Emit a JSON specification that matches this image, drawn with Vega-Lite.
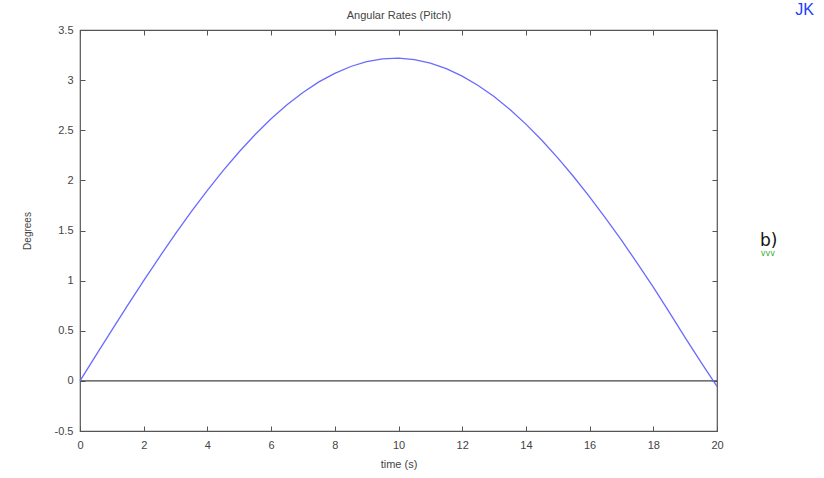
{
  "$schema": "https://vega.github.io/schema/vega-lite/v6.json",
  "width": 637,
  "height": 401,
  "autosize": {"type": "none"},
  "padding": {"left": 80, "top": 30, "right": 107, "bottom": 47},
  "background": "white",
  "config": {
    "font": "Liberation Sans",
    "locale": {"number": {"decimal": ".", "thousands": ",", "grouping": [3], "currency": ["$", ""], "minus": "-"}},
    "view": {"stroke": "#555", "strokeWidth": 1.2},
    "axis": {"grid": false, "labelColor": "#444", "titleColor": "#444", "labelFontSize": 11, "titleFontWeight": "normal", "domain": false, "tickColor": "#555"}
  },
  "datasets": {
    "pitch": [
      {"t": 0, "v": 0}, {"t": 0.5, "v": 0.254}, {"t": 1, "v": 0.506}, {"t": 1.5, "v": 0.755},
      {"t": 2, "v": 1.0}, {"t": 2.5, "v": 1.238}, {"t": 3, "v": 1.469}, {"t": 3.5, "v": 1.69},
      {"t": 4, "v": 1.901}, {"t": 4.5, "v": 2.1}, {"t": 5, "v": 2.286}, {"t": 5.5, "v": 2.458},
      {"t": 6, "v": 2.614}, {"t": 6.5, "v": 2.754}, {"t": 7, "v": 2.876}, {"t": 7.5, "v": 2.982},
      {"t": 8, "v": 3.068}, {"t": 8.5, "v": 3.136}, {"t": 9, "v": 3.184}, {"t": 9.5, "v": 3.212},
      {"t": 10, "v": 3.22}, {"t": 10.5, "v": 3.205}, {"t": 11, "v": 3.17}, {"t": 11.5, "v": 3.115},
      {"t": 12, "v": 3.04}, {"t": 12.5, "v": 2.947}, {"t": 13, "v": 2.836}, {"t": 13.5, "v": 2.706},
      {"t": 14, "v": 2.561}, {"t": 14.5, "v": 2.4}, {"t": 15, "v": 2.225}, {"t": 15.5, "v": 2.036},
      {"t": 16, "v": 1.835}, {"t": 16.5, "v": 1.624}, {"t": 17, "v": 1.403}, {"t": 17.5, "v": 1.172},
      {"t": 18, "v": 0.935}, {"t": 18.5, "v": 0.686}, {"t": 19, "v": 0.432}, {"t": 19.5, "v": 0.185},
      {"t": 20, "v": -0.055}
    ],
    "notes": [
      {"t": 21.62, "v": 1.40, "label": "b)", "kind": "panel"},
      {"t": 21.6, "v": 1.27, "label": "vvv", "kind": "mark"},
      {"t": 22.75, "v": 3.70, "label": "JK", "kind": "initials"}
    ]
  },
  "layer": [
    {
      "data": {"values": [{"level": 0}]},
      "mark": {"type": "rule", "color": "#444", "strokeWidth": 1.2},
      "encoding": {"y": {"field": "level", "type": "quantitative", "axis": null}}
    },
    {
      "data": {"name": "pitch"},
      "mark": {"type": "line", "color": "#6a6aff", "strokeWidth": 1.3},
      "encoding": {
        "x": {
          "field": "t", "type": "quantitative",
          "scale": {"domain": [0, 20], "nice": false, "zero": false},
          "axis": {"title": "time (s)", "titleFontSize": 11, "values": [0, 2, 4, 6, 8, 10, 12, 14, 16, 18, 20], "tickSize": -5, "labelPadding": 13, "titlePadding": 8, "labelFlush": false}
        },
        "y": {
          "field": "v", "type": "quantitative",
          "scale": {"domain": [-0.5, 3.5], "nice": false, "zero": false},
          "axis": {"title": "Degrees", "titleFontSize": 10, "values": [-0.5, 0, 0.5, 1, 1.5, 2, 2.5, 3, 3.5], "format": "~g", "tickSize": -5, "labelPadding": 12, "titlePadding": 22, "labelFlush": false}
        }
      }
    },
    {
      "data": {"name": "pitch"},
      "mark": {"type": "point", "opacity": 0},
      "encoding": {
        "x": {"field": "t", "type": "quantitative", "axis": {"orient": "top", "labels": false, "title": "Angular Rates (Pitch)", "titleFontSize": 11, "titlePadding": 9, "tickSize": -5, "values": [0, 2, 4, 6, 8, 10, 12, 14, 16, 18, 20]}},
        "y": {"field": "v", "type": "quantitative", "axis": {"orient": "right", "labels": false, "title": null, "tickSize": -5, "values": [-0.5, 0, 0.5, 1, 1.5, 2, 2.5, 3, 3.5]}}
      }
    },
    {
      "data": {"name": "notes"},
      "transform": [{"filter": "datum.kind === 'panel'"}],
      "mark": {"type": "text", "clip": false, "font": "DejaVu Sans", "fontSize": 17, "color": "#111111"},
      "encoding": {
        "x": {"field": "t", "type": "quantitative", "axis": null},
        "y": {"field": "v", "type": "quantitative", "axis": null},
        "text": {"field": "label"}
      }
    },
    {
      "data": {"name": "notes"},
      "transform": [{"filter": "datum.kind === 'mark'"}],
      "mark": {"type": "text", "clip": false, "font": "DejaVu Sans", "fontSize": 8, "color": "#33aa33"},
      "encoding": {
        "x": {"field": "t", "type": "quantitative", "axis": null},
        "y": {"field": "v", "type": "quantitative", "axis": null},
        "text": {"field": "label"}
      }
    },
    {
      "data": {"name": "notes"},
      "transform": [{"filter": "datum.kind === 'initials'"}],
      "mark": {"type": "text", "clip": false, "font": "Liberation Sans", "fontSize": 16, "color": "#1a3cff"},
      "encoding": {
        "x": {"field": "t", "type": "quantitative", "axis": null},
        "y": {"field": "v", "type": "quantitative", "axis": null},
        "text": {"field": "label"}
      }
    }
  ],
  "resolve": {"axis": {"x": "independent", "y": "independent"}}
}
